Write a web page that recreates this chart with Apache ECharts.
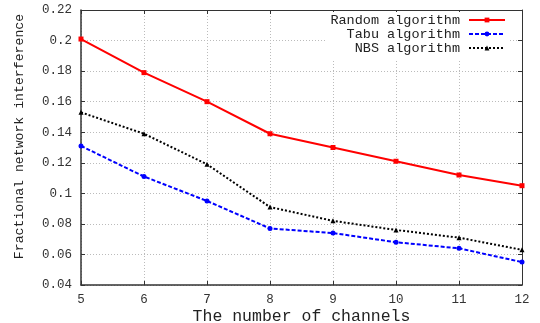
<!DOCTYPE html>
<html><head><meta charset="utf-8">
<script src="https://cdn.jsdelivr.net/npm/echarts@6/dist/echarts.min.js"></script>
<style>html,body{margin:0;padding:0;background:#fff}#c{width:540px;height:323px}</style>
</head><body><div id="c"></div>
<script>
var channels = [5, 6, 7, 8, 9, 10, 11, 12];
var randomAlg = [0.201, 0.179, 0.160, 0.139, 0.130, 0.121, 0.112, 0.105];
var tabuAlg = [0.131, 0.111, 0.095, 0.077, 0.074, 0.068, 0.064, 0.055];
var nbsAlg = [0.153, 0.139, 0.119, 0.091, 0.082, 0.076, 0.071, 0.063];
var names = ['Random algorithm', 'Tabu algorithm', 'NBS algorithm'];

function pairs(v){ return channels.map(function(c,i){ return [c, v[i]]; }); }
var font = 'Liberation Mono';
var chart = echarts.init(document.getElementById('c'));
chart.setOption({
  animation: false,
  grid: {left: 81, right: 18, top: 10, bottom: 38, containLabel: false, outerBoundsMode: 'none'},
  legend: {
    right: 30, top: 12, orient: 'vertical', align: 'right',
    itemWidth: 36, itemHeight: 6, itemGap: 0,
    backgroundColor: '#fff', padding: [1, 4, 4, 4],
    textStyle: {fontFamily: font, fontSize: 13.5, color: '#222', padding: [0, 4, 0, 0], lineHeight: 12},
    data: names
  },
  xAxis: [{
    type: 'value', min: 5, max: 12, interval: 1,
    name: 'The number of channels', nameLocation: 'middle', nameGap: 23, nameMoveOverlap: false,
    nameTextStyle: {fontFamily: font, fontSize: 16.5, color: '#222'},
    axisLine: {show: true, lineStyle: {color: '#333', width: 1.5}},
    axisTick: {show: true, inside: true, length: 4, lineStyle: {color: '#333'}},
    axisLabel: {fontFamily: font, fontSize: 12.5, color: '#333', margin: 8},
    splitLine: {show: true, lineStyle: {color: '#bbb', type: [1, 2], width: 1}}
  }, {
    type: 'value', min: 5, max: 12, interval: 1, position: 'top',
    axisLine: {show: true, lineStyle: {color: '#333', width: 1}},
    axisTick: {show: true, inside: true, length: 4, lineStyle: {color: '#333'}},
    axisLabel: {show: false}, splitLine: {show: false}
  }],
  yAxis: [{
    type: 'value', min: 0.04, max: 0.22, interval: 0.02,
    name: 'Fractional network interference', nameLocation: 'middle', nameGap: 55, nameMoveOverlap: false,
    nameTextStyle: {fontFamily: font, fontSize: 13.2, color: '#222', padding: [0, 0, 0, 22]},
    axisLine: {show: true, lineStyle: {color: '#333', width: 1.5}},
    axisTick: {show: true, inside: true, length: 4, lineStyle: {color: '#333'}},
    axisLabel: {fontFamily: font, fontSize: 12.5, color: '#333', margin: 9,
      formatter: function(v){ return String(parseFloat(v.toFixed(2))); }},
    splitLine: {show: true, lineStyle: {color: '#bbb', type: [1, 2], width: 1}}
  }, {
    type: 'value', min: 0.04, max: 0.22, interval: 0.02, position: 'right',
    axisLine: {show: true, lineStyle: {color: '#333', width: 1}},
    axisTick: {show: true, inside: true, length: 4, lineStyle: {color: '#333'}},
    axisLabel: {show: false}, splitLine: {show: false}
  }],
  series: [{
    name: names[0], type: 'line', data: pairs(randomAlg), z: 3,
    symbol: 'rect', symbolSize: 5,
    itemStyle: {color: '#ff0000'}, lineStyle: {color: '#ff0000', width: 2}
  }, {
    name: names[1], type: 'line', data: pairs(tabuAlg), z: 3,
    symbol: 'circle', symbolSize: 5,
    itemStyle: {color: '#0000ff'}, lineStyle: {color: '#0000ff', width: 2, type: [4, 2]}
  }, {
    name: names[2], type: 'line', data: pairs(nbsAlg), z: 3,
    symbol: 'triangle', symbolSize: 5,
    itemStyle: {color: '#000'}, lineStyle: {color: '#000', width: 2, type: [2, 2]}
  }]
});
</script></body></html>
